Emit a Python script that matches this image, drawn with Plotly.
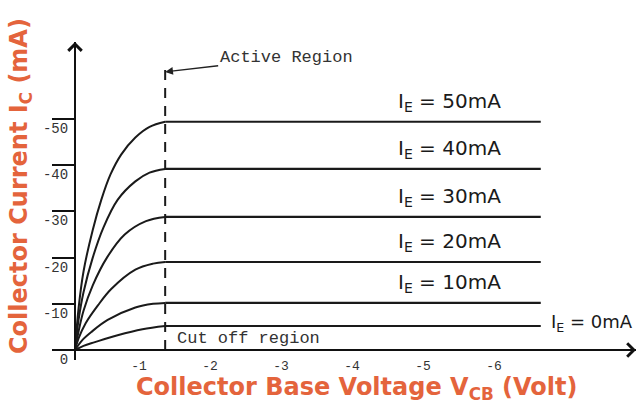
import plotly.graph_objects as go

# ---- data ----
# Collector-base voltage magnitude (V) and collector current (mA) for each emitter current
ie_labels = ["0mA", "10mA", "20mA", "30mA", "40mA", "50mA"]

v_0 = [0, 0.12, 0.28, 0.6, 0.95, 1.27]
i_0 = [0, 0.9, 1.7, 3.2, 4.5, 5.2]

v_10 = [0, 0.1, 0.23, 0.46, 0.85, 1.1, 1.27]
i_10 = [0, 2.1, 3.9, 6.5, 9.2, 10.0, 10.2]

v_20 = [0, 0.05, 0.15, 0.32, 0.51, 0.85, 1.1, 1.27]
i_20 = [0, 2.5, 5.8, 9.6, 13.2, 17.4, 18.7, 19.05]

v_30 = [0, 0.05, 0.12, 0.25, 0.45, 0.7, 1.0, 1.27]
i_30 = [0, 4, 8.5, 14, 20, 25, 27.9, 28.8]

v_40 = [0, 0.05, 0.12, 0.25, 0.4, 0.6, 0.85, 1.05, 1.27]
i_40 = [0, 6.5, 12.5, 20, 26.5, 32.5, 36.5, 38.4, 39.2]

v_50 = [0, 0.05, 0.12, 0.25, 0.37, 0.5, 0.65, 0.85, 1.05, 1.27]
i_50 = [0, 9, 17, 26, 32.5, 38, 42.3, 46, 48.3, 49.4]

plateau_end_v = 6.56   # where the flat (active region) lines end
knee_v = 1.27          # boundary between active / saturation region
knee_top = 62.3

x_tickvals = [1, 2, 3, 4, 5, 6]
x_ticktext = ["-1", "-2", "-3", "-4", "-5", "-6"]
y_tickvals = [0, 10, 20, 30, 40, 50]
y_ticktext = ["0", "-10", "-20", "-30", "-40", "-50"]

curves = [(v_0, i_0), (v_10, i_10), (v_20, i_20), (v_30, i_30), (v_40, i_40), (v_50, i_50)]

ORANGE = "#E4643C"
X_RANGE = [-0.2535, 7.9014]
Y_RANGE = [-2.1645, 66.667]

fig = go.Figure()

for (vv, ii) in curves:
    fig.add_trace(go.Scatter(
        x=vv, y=ii, mode="lines",
        line=dict(color="#1a1a1a", width=2, shape="spline", smoothing=1.0),
        hoverinfo="skip", showlegend=False, cliponaxis=False,
    ))
    fig.add_trace(go.Scatter(
        x=[vv[-1], plateau_end_v], y=[ii[-1], ii[-1]], mode="lines",
        line=dict(color="#1a1a1a", width=2.2),
        hoverinfo="skip", showlegend=False,
    ))

# dashed boundary line
fig.add_trace(go.Scatter(
    x=[knee_v, knee_v], y=[0, knee_top], mode="lines",
    line=dict(color="#1a1a1a", width=2, dash="10px,8px"),
    hoverinfo="skip", showlegend=False,
))

annotations = []
# I_E labels
for (vv, ii), lab in zip(curves, ie_labels):
    if lab == "0mA":
        annotations.append(dict(x=6.68, y=ii[-1], xref="x", yref="y", xanchor="left", yanchor="middle",
                                yshift=3, showarrow=False,
                                text="I<sub>E</sub> = " + lab,
                                font=dict(family="DejaVu Sans", size=18, color="#1a1a1a")))
    else:
        annotations.append(dict(x=4.52, y=ii[-1], xref="x", yref="y", xanchor="left", yanchor="middle",
                                yshift=20, showarrow=False,
                                text="I<sub>E</sub> = " + lab,
                                font=dict(family="DejaVu Sans", size=20, color="#1a1a1a")))

# Active region annotation with arrow
annotations.append(dict(x=knee_v, y=60.2, xref="x", yref="y", ax=121, ay=-14,
                        text="Active Region", showarrow=True, arrowhead=2, arrowsize=1.2,
                        arrowwidth=1.3, arrowcolor="#222",
                        font=dict(family="Liberation Mono", size=17, color="#333")))
# Cut off region
annotations.append(dict(x=knee_v, y=0, xref="x", yref="y", xanchor="left", yanchor="middle",
                        xshift=10, yshift=12, showarrow=False, text="Cut off region",
                        font=dict(family="Liberation Mono", size=17, color="#333")))

# axis arrow heads
annotations.append(dict(x=X_RANGE[1], y=0, xref="x", yref="y", ax=-16, ay=0, text="",
                        showarrow=True, arrowhead=4, arrowsize=1.3, arrowwidth=2, arrowcolor="#111"))
annotations.append(dict(x=0, y=Y_RANGE[1], xref="x", yref="y", ax=0, ay=16, text="",
                        showarrow=True, arrowhead=4, arrowsize=1.3, arrowwidth=2, arrowcolor="#111"))

# axis titles
annotations.append(dict(x=357, y=388, xref="paper", yref="paper", showarrow=False,
                        xanchor="center", yanchor="middle",
                        text="Collector Base Voltage V<sub>CB</sub> (Volt)",
                        font=dict(family="DejaVu Sans", size=24, color=ORANGE, weight="bold")))
annotations.append(dict(x=20, y=186, xref="paper", yref="paper", showarrow=False, textangle=-90,
                        xanchor="center", yanchor="middle",
                        text="Collector Current I<sub>C</sub> (mA)",
                        font=dict(family="DejaVu Sans", size=24, color=ORANGE, weight="bold")))

W, H = 644, 405
ML, MR, MT, MB = 57, 8, 42, 45
PW, PH = W - ML - MR, H - MT - MB
# convert pixel positions of title annotations into paper coords
for a in annotations:
    if a.get("xref") == "paper":
        a["x"] = (a["x"] - ML) / PW
        a["y"] = 1 - (a["y"] - MT) / PH

fig.update_layout(
    template="none",
    width=W, height=H,
    margin=dict(l=ML, r=MR, t=MT, b=MB, autoexpand=False),
    paper_bgcolor="white", plot_bgcolor="white",
    annotations=annotations,
    xaxis=dict(range=X_RANGE, anchor="free", position=10 / PH, automargin=False,
               showgrid=False, zeroline=False, showline=True, linecolor="#111", linewidth=2,
               tickvals=x_tickvals, ticktext=x_ticktext, ticks="",
               tickfont=dict(family="Liberation Mono", size=13, color="#333"),
               ticklabelstandoff=3, ticklabelshift=-7),
    yaxis=dict(range=Y_RANGE, anchor="free", position=18 / PW, automargin=False,
               showgrid=False, zeroline=False, showline=True, linecolor="#111", linewidth=2,
               tickvals=y_tickvals, ticktext=y_ticktext, ticks="outside", ticklen=22,
               tickwidth=1.5, tickcolor="#111",
               tickfont=dict(family="Liberation Mono", size=14, color="#333"),
               ticklabelstandoff=-19, ticklabelshift=9),
)

fig.write_html("out.html", config={"displayModeBar": False},
               post_script="document.body.style.margin='0';")
